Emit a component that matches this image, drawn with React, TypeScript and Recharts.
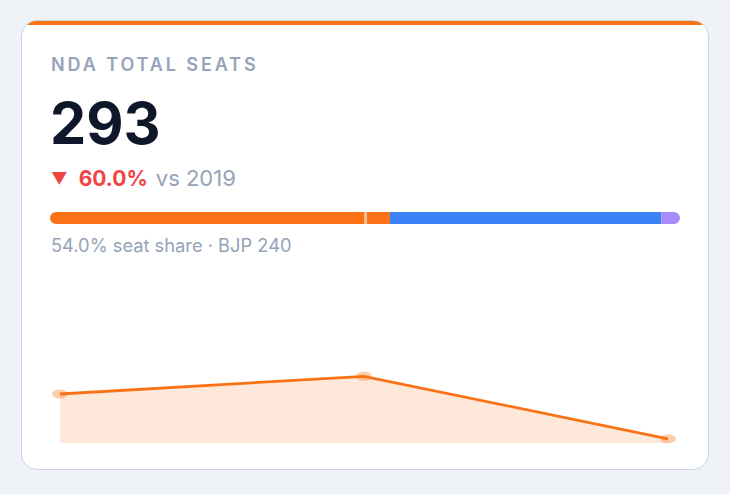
import React from 'react'
import {
  BarChart, Bar, XAxis, YAxis, ReferenceLine,
  AreaChart, Area,
} from 'recharts'

const TITLE = 'NDA TOTAL SEATS'
const TOTAL = 293
const CHANGE = '60.0%'
const COMPARE = 'vs 2019'
const CAPTION = '54.0% seat share · BJP 240'

// seat split for the share bar (543 seats)
const SPLIT_KEYS = ['nda', 'india', 'others']
const SPLIT_VALUES = [293, 234, 16]
const SPLIT_COLORS = ['#f97316', '#3b82f6', '#a78bfa']
const MAJORITY = 272
const HOUSE = 543

// sparkline history
const YEARS = ['2014', '2019', '2024']
const SEATS = [336, 353, 293]

const splitRow = [
  SPLIT_KEYS.reduce((o: any, k, i) => ({ ...o, [k]: SPLIT_VALUES[i] }), { name: 'seats' }),
]
const history = YEARS.map((y, i) => ({ year: y, seats: SEATS[i] }))

const font = 'Inter, "Noto Sans", sans-serif'

function SoftDot(props: any) {
  const { cx, cy } = props
  if (cx == null || cy == null) return null
  return <ellipse cx={cx} cy={cy} rx={8} ry={4.5} fill="#f97316" fillOpacity={0.35} />
}

export default function App() {
  return (
    <div style={{ position: 'absolute', left: 0, top: 0, width: 730, height: 494, background: '#eff2f7', fontFamily: font }}>
      <div
        style={{
          position: 'absolute', left: 21, top: 20, width: 688, height: 450,
          boxSizing: 'border-box', border: '1.5px solid #cbd5e1', borderRadius: 16,
          background: '#fff', overflow: 'hidden',
        }}
      >
        <div style={{ position: 'absolute', left: 0, top: 0, right: 0, height: 4, background: '#f97316' }} />
      </div>

      <div style={{ position: 'absolute', left: 51, top: 56, fontSize: 18, lineHeight: 1, fontWeight: 600, letterSpacing: 2.9, color: '#94a3b8', whiteSpace: 'nowrap' }}>
        {TITLE}
      </div>
      <div style={{ position: 'absolute', left: 50, top: 95, fontSize: 57.5, lineHeight: 1, fontWeight: 700, color: '#0f172a' }}>
        {TOTAL}
      </div>
      <div style={{ position: 'absolute', left: 51, top: 167, fontSize: 22, lineHeight: 1, color: '#94a3b8', whiteSpace: 'nowrap' }}>
        <span style={{ color: '#ef4444', fontSize: 16.5, marginRight: 11, position: 'relative', top: -2 }}>▼</span>
        <span style={{ color: '#ef4444', fontWeight: 700, fontSize: 21 }}>{CHANGE}</span>
        <span style={{ marginLeft: 8 }}>{COMPARE}</span>
      </div>

      <div style={{ position: 'absolute', left: 50, top: 212 }}>
        <BarChart width={630} height={12} data={splitRow} layout="vertical" margin={{ top: 0, right: 0, bottom: 0, left: 0 }} barCategoryGap={0}>
          <XAxis type="number" domain={[0, HOUSE]} hide />
          <YAxis type="category" dataKey="name" hide />
          {SPLIT_KEYS.map((k, i) => (
            <Bar
              key={k}
              dataKey={k}
              stackId="s"
              fill={SPLIT_COLORS[i]}
              isAnimationActive={false}
              radius={i === 0 ? [6, 0, 0, 6] : i === SPLIT_KEYS.length - 1 ? [0, 6, 6, 0] : 0}
            />
          ))}
          <ReferenceLine x={MAJORITY} stroke="#ffffff" strokeOpacity={0.55} strokeWidth={3} />
        </BarChart>
      </div>

      <div style={{ position: 'absolute', left: 51, top: 236, fontSize: 18.3, lineHeight: 1, color: '#94a3b8', whiteSpace: 'nowrap' }}>
        {CAPTION}
      </div>

      <div style={{ position: 'absolute', left: 50, top: 360 }}>
        <AreaChart width={630} height={90} data={history} margin={{ top: 9, right: 12, bottom: 7, left: 10 }}>
          <XAxis dataKey="year" hide />
          <YAxis domain={[289, 360]} hide />
          <Area
            type="linear"
            dataKey="seats"
            stroke="#f97316"
            strokeWidth={2.8}
            fill="#f97316"
            fillOpacity={0.16}
            dot={<SoftDot />}
            activeDot={false}
            isAnimationActive={false}
          />
        </AreaChart>
      </div>
    </div>
  )
}
